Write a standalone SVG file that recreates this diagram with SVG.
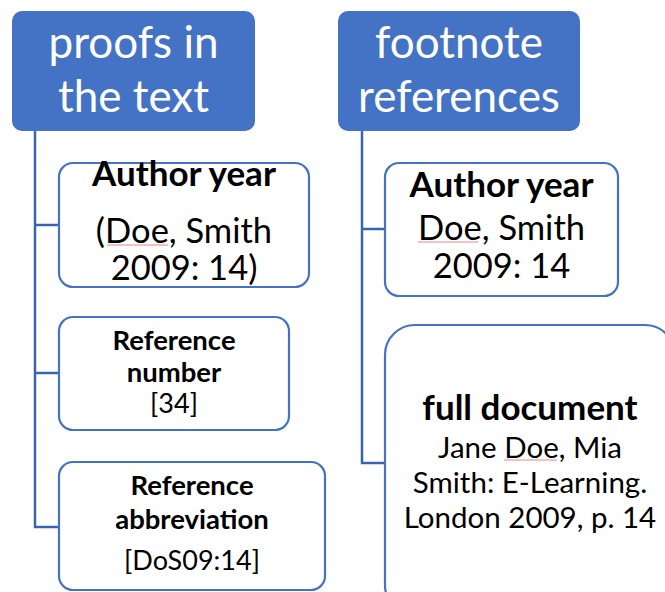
<svg xmlns="http://www.w3.org/2000/svg" width="665" height="592" viewBox="0 0 665 592">
<style>
.hdr{fill:#4472C4}
.box{fill:#fff;stroke:#4472C4;stroke-width:2.2}
.con{fill:none;stroke:#3B64B0;stroke-width:2.5}
text{font-family:Lato,"Open Sans","Liberation Sans",sans-serif;text-anchor:middle;fill:#000}
.ht{fill:#fff;font-size:44px}
.b{font-weight:bold}
.sq{fill:none;stroke:#F08080;stroke-width:1}
</style>
<rect width="665" height="592" fill="#fff"/>
<g id="connectors">
<path class="con" d="M35,131 V527 H59 M35,225 H59 M35,373 H59"/>
<path class="con" d="M362,131 V463 H385 M362,229 H385"/>
</g>
<g id="proofs">
<rect class="hdr" x="12" y="11" width="243" height="120" rx="10"/>
<text class="ht" x="133.5" y="58">proofs in</text>
<text class="ht" x="133.5" y="112">the text</text>
</g>
<g id="footnote">
<rect class="hdr" x="338" y="11" width="242" height="120" rx="10"/>
<text class="ht" x="459" y="58">footnote</text>
<text class="ht" x="459" y="112">references</text>
</g>
<g id="author-year-text">
<rect class="box" x="59" y="163" width="250" height="124" rx="14"/>
<text class="b" x="184" y="186" font-size="35">Author year</text>
<text x="184" y="243" font-size="34.5">(Doe, Smith</text>
<text x="184" y="280" font-size="34.5">2009: 14)</text>
<path class="sq" d="M107,245 H168"/>
</g>
<g id="reference-number">
<rect class="box" x="59" y="317" width="230" height="113" rx="14"/>
<text class="b" x="174" y="350" font-size="27.5">Reference</text>
<text class="b" x="174" y="382" font-size="27.5">number</text>
<text x="174" y="413" font-size="27">[34]</text>
</g>
<g id="reference-abbreviation">
<rect class="box" x="59" y="462" width="266" height="128" rx="14"/>
<text class="b" x="192" y="495" font-size="27.5">Reference</text>
<text class="b" x="192" y="529" font-size="27.5">abbreviation</text>
<text x="192" y="570" font-size="27">[DoS09:14]</text>
</g>
<g id="author-year-footnote">
<rect class="box" x="385" y="163" width="233" height="133" rx="14"/>
<text class="b" x="501.5" y="197" font-size="35">Author year</text>
<text x="501.5" y="240" font-size="34.5">Doe, Smith</text>
<text x="501.5" y="278" font-size="34.5">2009: 14</text>
<path class="sq" d="M418,242 H478"/>
</g>
<g id="full-document">
<rect class="box" x="385" y="325" width="290" height="290" rx="30"/>
<text class="b" x="530" y="420" font-size="35">full document</text>
<text x="530" y="458" font-size="29.5">Jane Doe, Mia</text>
<text x="530" y="493" font-size="29.5">Smith: E-Learning.</text>
<text x="530" y="528" font-size="29.5">London 2009, p. 14</text>
<path class="sq" d="M504,460 H557"/>
</g>
</svg>
